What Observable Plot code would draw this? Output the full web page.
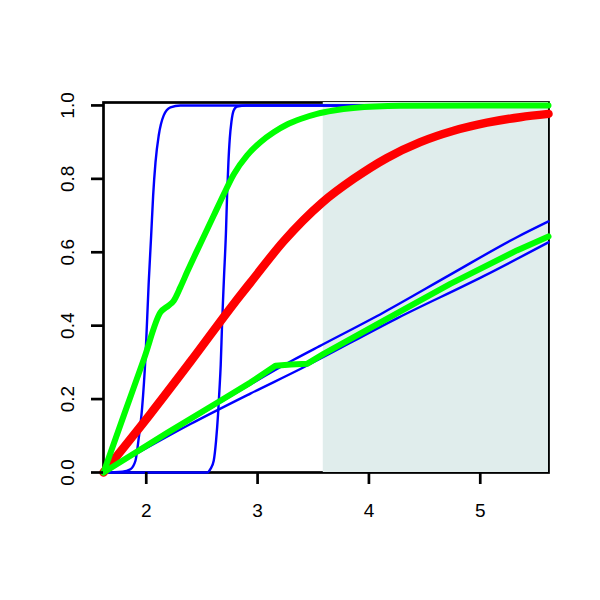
<!DOCTYPE html>
<html><head><meta charset="utf-8">
<script src="https://cdn.jsdelivr.net/npm/d3@7"></script>
<script src="https://cdn.jsdelivr.net/npm/@observablehq/plot@0.6"></script>
<style>body{margin:0;background:#fff} #chart svg text{font-size:19px !important;}</style>
</head><body><div id="chart"></div>
<script>
const xTicks = [2, 3, 4, 5];
const yTicks = [0, 0.2, 0.4, 0.6, 0.8, 1.0];
const xDomain = [1.616, 5.613];
const yDomain = [0, 1.008];
const shadeBand = [{x1: 3.59, x2: 5.613, y1: 0, y2: 1.008}];

const blueSteepA = [[1.616,0],[1.786,0.002],[1.858,0.009],[1.903,0.032],[1.933,0.095],[1.963,0.177],[1.993,0.314],[2.022,0.517],[2.044,0.645],[2.062,0.755],[2.083,0.845],[2.112,0.918],[2.157,0.973],[2.217,0.995],[2.307,1.0],[5.613,1.0]];
const blueSteepB = [[1.616,0],[2.547,0],[2.576,0.009],[2.606,0.032],[2.627,0.086],[2.645,0.159],[2.657,0.223],[2.669,0.294],[2.681,0.404],[2.697,0.523],[2.717,0.664],[2.726,0.755],[2.738,0.845],[2.750,0.909],[2.765,0.955],[2.785,0.986],[2.816,0.997],[2.9,1.0],[5.613,1.0]];
const blueFlatA = [[1.616,0],[2.4,0.143],[3.324,0.307],[3.593,0.350],[4.132,0.436],[4.731,0.539],[5.329,0.641],[5.613,0.684]];
const blueFlatB = [[1.616,0],[2.397,0.132],[2.935,0.215],[3.384,0.282],[4.252,0.420],[5.030,0.535],[5.613,0.627]];
const redCurve = [[1.616,0],[2.038,0.160],[2.397,0.302],[2.843,0.482],[2.935,0.517],[3.234,0.630],[3.579,0.735],[3.863,0.800],[4.162,0.857],[4.461,0.900],[4.760,0.931],[5.060,0.953],[5.359,0.968],[5.613,0.977]];
const greenUpper = [[1.616,0],[1.80,0.157],[1.98,0.31],[2.127,0.436],[2.202,0.455],[2.247,0.468],[2.307,0.505],[2.367,0.546],[2.487,0.624],[2.606,0.700],[2.696,0.758],[2.785,0.812],[2.906,0.864],[3.025,0.900],[3.145,0.927],[3.265,0.948],[3.385,0.963],[3.534,0.977],[3.683,0.986],[3.860,0.993],[4.282,0.999],[5.027,1.0],[5.613,1.0]];
const greenLower = [[1.616,0],[2.188,0.108],[2.636,0.190],[2.935,0.245],[3.160,0.291],[3.30,0.294],[3.444,0.296],[3.593,0.323],[4.132,0.414],[4.731,0.514],[5.329,0.605],[5.613,0.643]];

const line = (data, stroke, w, curve = "monotone-x") => Plot.line(data, {x: d => d[0], y: d => d[1], stroke, strokeWidth: w, curve});

const chart = Plot.plot({
  width: 600, height: 600,
  marginLeft: 103, marginRight: 52, marginTop: 102, marginBottom: 128,
  style: {fontFamily: "'Liberation Sans', Arial, Helvetica, sans-serif", fontSize: "19px", background: "#fff", color: "#000"},
  x: {domain: xDomain, label: null},
  y: {domain: yDomain, label: null},
  marks: [
    Plot.frame({stroke: "#000", strokeWidth: 2.7}),
    Plot.rect(shadeBand, {x1: "x1", x2: "x2", y1: "y1", y2: "y2", fill: "#E0EDEC"}),
    line(blueSteepA, "#0000FF", 2.4),
    line(blueSteepB, "#0000FF", 2.4),
    line(blueFlatA, "#0000FF", 2.4),
    line(blueFlatB, "#0000FF", 2.4),
    line(redCurve, "#FF0000", 8.5),
    line(greenUpper, "#00FF00", 6),
    line(greenLower, "#00FF00", 6, "linear"),
    Plot.axisX(xTicks, {tickSize: 12, tickPadding: 19, strokeWidth: 2.7, fontSize: 19, label: null}),
    Plot.axisY(yTicks, {tickSize: 12, tickPadding: 17.5, tickRotate: -90, strokeWidth: 2.7, fontSize: 19, tickFormat: d3.format(".1f"), label: null})
  ]
});
document.getElementById("chart").appendChild(chart);
</script>
</body></html>
